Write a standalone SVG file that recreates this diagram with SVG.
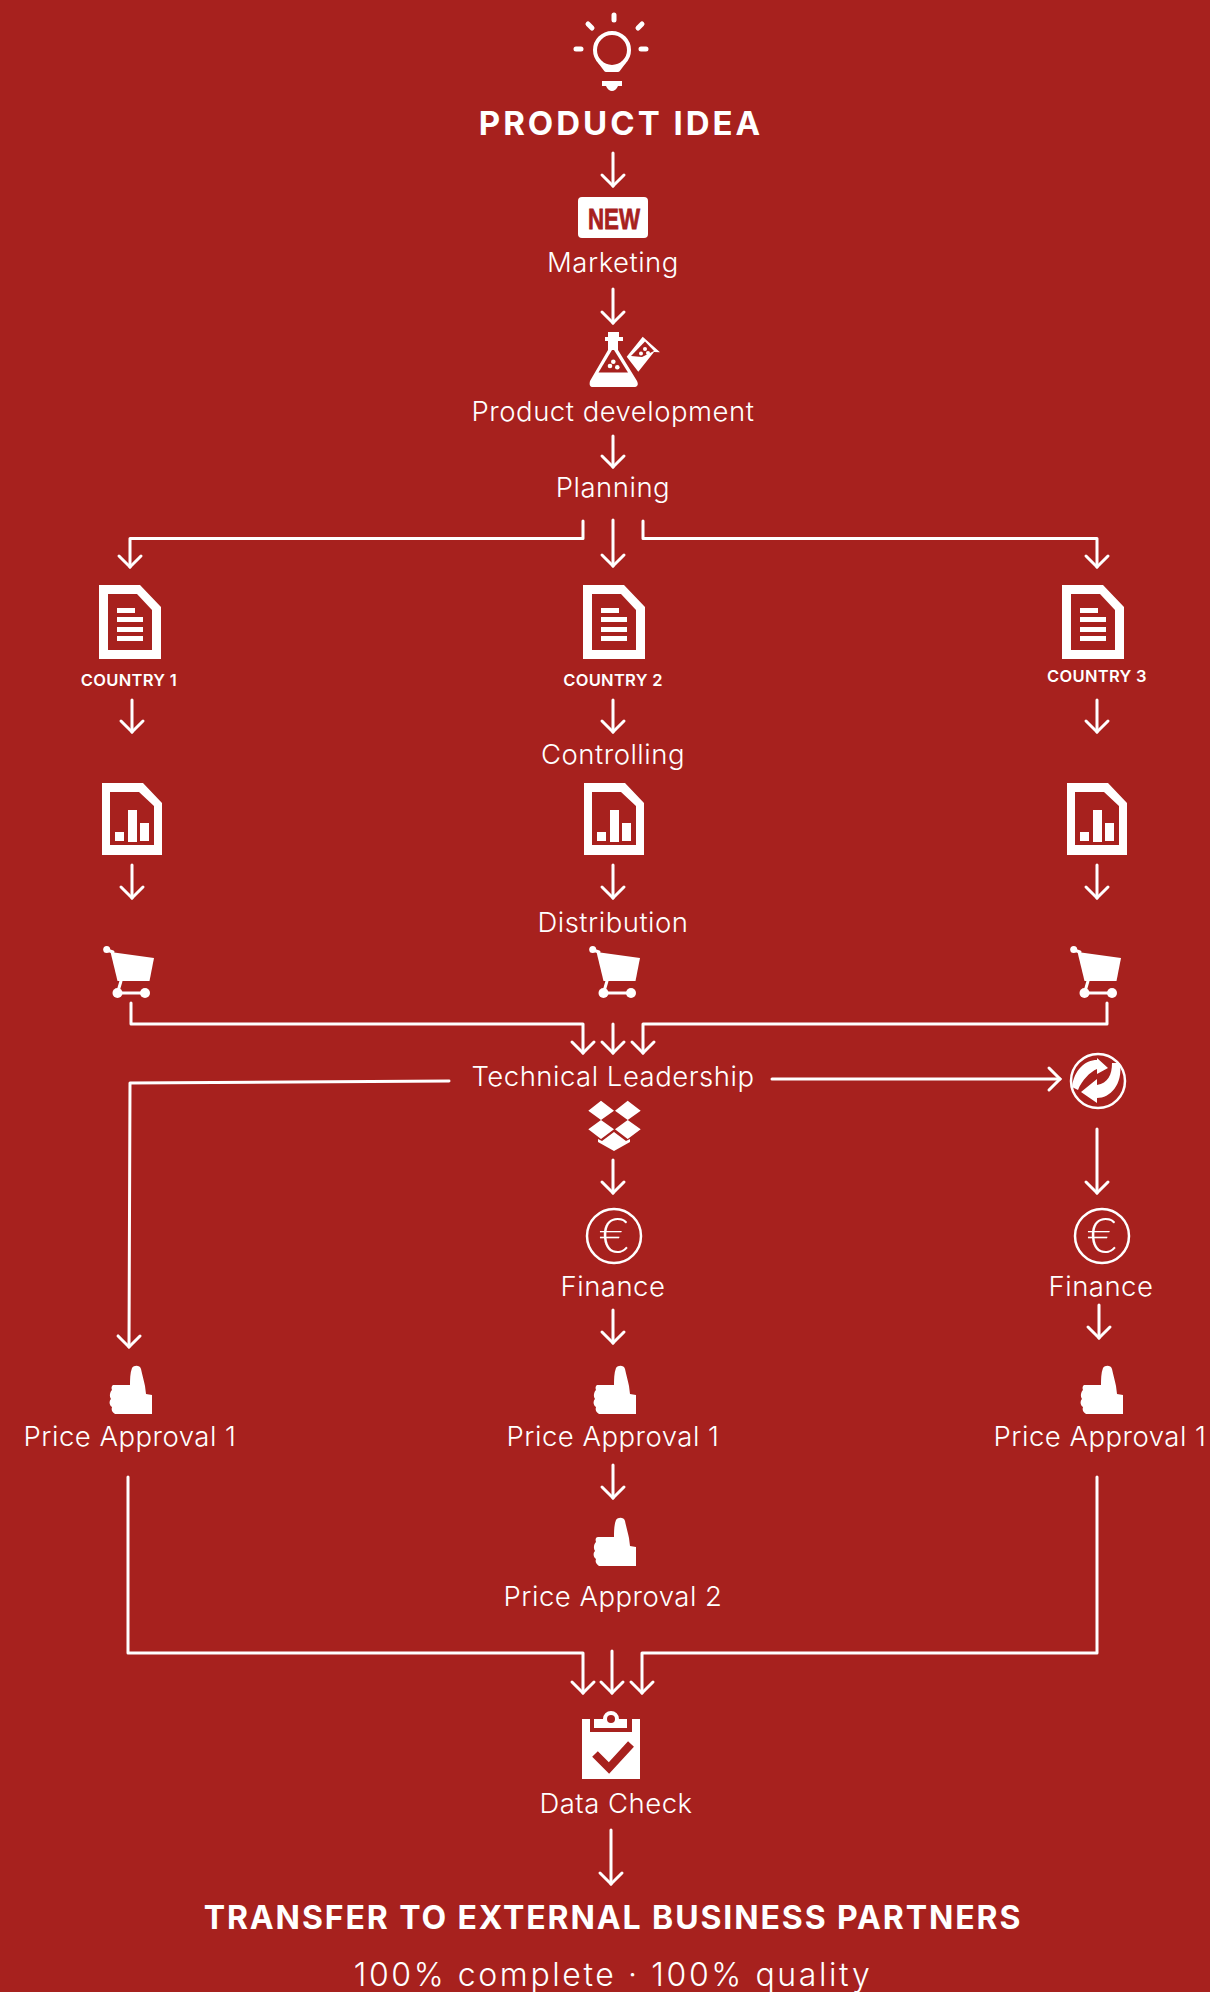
<svg xmlns="http://www.w3.org/2000/svg" width="1210" height="1992" viewBox="0 0 1210 1992">
<style>
text{font-family:"Inter","Lato","Liberation Sans",sans-serif;fill:#fff;text-anchor:middle}
.l{font-size:27.500px;font-weight:300;letter-spacing:.5px}
.h{font-size:32px;font-weight:700;letter-spacing:1.900px}
.t{font-size:33px;font-weight:700;letter-spacing:3px}
.c{font-size:16.500px;font-weight:600;letter-spacing:.3px}
.s{font-size:32px;font-weight:300;letter-spacing:2.600px}
.w{fill:#fff}
.r{fill:#a7211e}
.ln{fill:none;stroke:#fff;stroke-width:3;stroke-linecap:round;stroke-linejoin:round}
#connectors path{fill:none;stroke:#fff;stroke-width:3;stroke-linejoin:round;stroke-linecap:round;marker-end:url(#ah)}
</style>
<defs>
<marker id="ah" markerUnits="userSpaceOnUse" markerWidth="30" markerHeight="30" refX="14" refY="15" orient="auto" viewBox="0 0 30 30">
<path d="M3,4 L14,15 L3,26" fill="none" stroke="#fff" stroke-width="3" stroke-linecap="round" stroke-linejoin="miter"/>
</marker>
<g id="doc">
<path class="w" fill-rule="evenodd" d="M0,0H41L62,22V74H0Z M9,9V65H53V25L38,9Z"/>
<rect class="w" x="18" y="23" width="18" height="5"/><rect class="w" x="18" y="32" width="26" height="5"/><rect class="w" x="18" y="42" width="26" height="5"/><rect class="w" x="18" y="51" width="26" height="5"/>
</g>
<g id="chart">
<path class="w" fill-rule="evenodd" d="M0,0H41L60,20V72H0Z M8,9V62H52V23L37,9Z"/>
<rect class="w" x="13" y="49" width="9" height="9"/><rect class="w" x="26" y="27" width="9" height="32"/><rect class="w" x="38" y="40" width="9" height="18"/>
</g>
<g id="cart">
<circle class="w" cx="3.700" cy="3.500" r="3.500"/>
<path class="ln" d="M4,4 L10,6"/>
<path class="w" d="M7.500,6 L51,12 L46.500,35 L14.500,35Z"/>
<path class="ln" d="M18,35 L14.500,47 H42"/>
<circle class="w" cx="14.500" cy="47" r="5"/><circle class="w" cx="42" cy="47" r="5"/>
</g>
<g id="euro">
<circle cx="0" cy="0" r="27" fill="none" stroke="#fff" stroke-width="2.500"/>
<text x="0" y="17" style="font-family:'Lato',sans-serif;font-size:50px;font-weight:300">€</text>
</g>
<path id="thumb" class="w" d="M24,2C26,-1 32,-1 33,3C34,8 36,15 37,20L38,28L44,29V48H7C4,46 3,44 4,41C1,39 1,35 3,33C1,30 2,26 4,24C3,21 4,19 6,19H22C22,14 22,7 24,2Z"/>
</defs>
<rect width="1210" height="1992" fill="#a7211e"/>
<g id="connectors">
<path d="M613,153V186"/>
<path d="M613,289V323"/>
<path d="M613,436V467"/>
<path d="M583,521V538.500H130V567"/>
<path d="M613,520V566"/>
<path d="M643,521V538.500H1097V567"/>
<path d="M132,700V732"/>
<path d="M613,700V732"/>
<path d="M1097,700V732"/>
<path d="M132,865V898"/>
<path d="M613,865V898"/>
<path d="M1097,865V898"/>
<path d="M131,1003V1024H583V1053"/>
<path d="M613,1024V1053"/>
<path d="M1107,1003V1024H643V1053"/>
<path d="M449,1081L130,1083L129,1347"/>
<path d="M772,1079H1060"/>
<path d="M613,1160V1193"/>
<path d="M1097,1129V1193"/>
<path d="M613,1310V1343"/>
<path d="M1099,1305V1338"/>
<path d="M613,1465V1498"/>
<path d="M128,1477V1653H583V1693"/>
<path d="M612,1651V1693"/>
<path d="M1097,1477V1653H642V1693"/>
<path d="M611,1830V1884"/>
</g>
<g id="idea">
<circle cx="612" cy="50" r="17" fill="none" stroke="#fff" stroke-width="4"/>
<path d="M600,62L606,70H618L624,62" fill="none" stroke="#fff" stroke-width="4" stroke-linejoin="round"/>
<path class="w" d="M602,81H622V86H618C617,89 614,91 612,91C610,91 607,89 606,86H602Z"/>
<path d="M614,15V20 M588,24L592,28 M642,24L638,28 M576,49H581 M641,49H646" fill="none" stroke="#fff" stroke-width="5" stroke-linecap="round"/>
<text class="t" x="621" y="135">PRODUCT IDEA</text>
</g>
<g id="marketing">
<rect class="w" x="578" y="197" width="70" height="41" rx="4"/>
<text x="614" y="229" textLength="52" lengthAdjust="spacingAndGlyphs" style="font-family:'Liberation Sans',sans-serif;font-size:30px;font-weight:700;fill:#a7211e;stroke:#a7211e;stroke-width:.8px">NEW</text>
<text class="l" x="613" y="272">Marketing</text>
</g>
<g id="product-development">
<path class="w" d="M608,332H619V337H623V341H618V350L637,381C639,385 637,387 634,387H593C590,387 589,385 590,381L608,350V341H605V337H608Z"/>
<path class="r" d="M612,350H614L628,372.500H598.500Z"/>
<circle class="w" cx="610" cy="366" r="2.300"/><circle class="w" cx="613.300" cy="361.700" r="2.300"/><circle class="w" cx="617.300" cy="367.300" r="2.300"/>
<path class="w" d="M626.700,356.700L642.700,336.700L660,352.300L654,352L638.300,371.700Z"/>
<path class="r" d="M631,356L645,341.500L654,351L642,357Z"/>
<circle class="w" cx="641" cy="353.500" r="2"/><circle class="w" cx="645" cy="349" r="2"/><circle class="w" cx="648" cy="353" r="2"/>
<text class="l" x="613" y="421">Product development</text>
</g>
<g id="planning"><text class="l" x="613" y="497">Planning</text></g>
<g id="country-1"><use href="#doc" x="99" y="585"/><text class="c" x="129" y="686">COUNTRY 1</text></g>
<g id="country-2"><use href="#doc" x="583" y="585"/><text class="c" x="613" y="686">COUNTRY 2</text></g>
<g id="country-3"><use href="#doc" x="1062" y="585"/><text class="c" x="1097" y="682">COUNTRY 3</text></g>
<g id="controlling-1"><use href="#chart" x="102" y="783"/></g>
<g id="controlling-2"><text class="l" x="613" y="764">Controlling</text><use href="#chart" x="584" y="783"/></g>
<g id="controlling-3"><use href="#chart" x="1067" y="783"/></g>
<g id="distribution-1"><use href="#cart" x="103" y="946"/></g>
<g id="distribution-2"><text class="l" x="613" y="932">Distribution</text><use href="#cart" x="589" y="946"/></g>
<g id="distribution-3"><use href="#cart" x="1070" y="946"/></g>
<g id="technical-leadership">
<text class="l" x="613" y="1086">Technical Leadership</text>
<path class="w" d="M588.300,1110.700L601,1100.700L614,1110.700L601,1120Z M615,1110.700L627.700,1100.700L640.700,1110.700L627.700,1120Z M588.300,1129.300L601,1120L614,1129.300L601,1139Z M615,1129.300L627.700,1120L640.700,1129.300L627.700,1139Z M614,1132L626,1141L630,1139V1142L614,1151L598,1142V1139L602,1141Z"/>
</g>
<g id="green-dot">
<circle cx="1098" cy="1081" r="27" fill="none" stroke="#fff" stroke-width="2.500"/>
<path class="w" d="M1072,1087C1074,1070 1085,1060 1097,1060V1058L1108,1068L1097,1074V1069C1090,1072 1082,1080 1078,1090Z"/>
<path class="w" d="M1120,1063C1123,1085 1110,1098 1097,1098V1103L1081,1092L1097,1079V1085C1108,1083 1112,1075 1112,1063Z"/>
</g>
<g id="finance-2"><use href="#euro" x="614" y="1236"/><text class="l" x="613" y="1296">Finance</text></g>
<g id="finance-3"><use href="#euro" x="1102" y="1236"/><text class="l" x="1101" y="1296">Finance</text></g>
<g id="price-approval-left"><use href="#thumb" x="108" y="1366"/><text class="l" x="130" y="1446">Price Approval 1</text></g>
<g id="price-approval-center"><use href="#thumb" x="592" y="1366"/><text class="l" x="613" y="1446">Price Approval 1</text></g>
<g id="price-approval-right"><use href="#thumb" x="1079" y="1366"/><text class="l" x="1100" y="1446">Price Approval 1</text></g>
<g id="price-approval-2"><use href="#thumb" x="592" y="1518"/><text class="l" x="613" y="1606">Price Approval 2</text></g>
<g id="data-check">
<path class="w" d="M582,1719H590V1732H632V1719H640V1779H582Z"/>
<path class="w" d="M594,1719H603A8,8 0 0 1 619,1719H627V1728H594Z"/>
<circle class="r" cx="611" cy="1719" r="4"/>
<path d="M595,1754L609,1768L631,1744" fill="none" stroke="#a7211e" stroke-width="8"/>
<text class="l" x="616" y="1813">Data Check</text>
</g>
<g id="transfer">
<text class="h" x="613" y="1929">TRANSFER TO EXTERNAL BUSINESS PARTNERS</text>
<text class="s" x="613" y="1986">100% complete · 100% quality</text>
</g>
</svg>
